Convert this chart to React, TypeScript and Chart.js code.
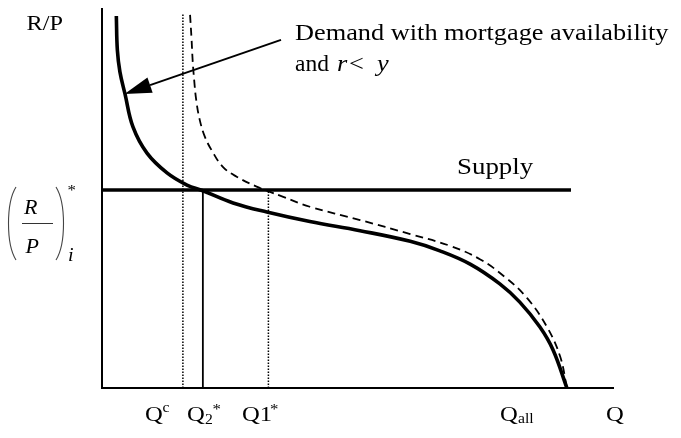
import React, { useEffect, useRef } from "react";
import { Chart, registerables } from "chart.js";

Chart.register(...registerables);

// Demand with mortgage availability, r < y (solid)
const demandQ = [2.8, 3.0, 3.5, 4.49, 6.05, 8.79, 12.7, 16.6, 19.7, 25.6, 32.2, 40.6, 50.4, 60.2, 66.0, 71.9, 77.7, 81.6, 85.5, 88.1, 90.8];
const demandRP = [97.9, 88.9, 83.2, 77.4, 68.7, 61.8, 56.6, 53.4, 51.9, 48.7, 46.3, 43.8, 41.4, 38.6, 36.1, 32.6, 27.4, 22.6, 16.1, 10.0, 0];

// Alternative demand (dashed)
const demand2Q = [17.2, 17.5, 17.7, 18.0, 18.4, 19.1, 20.1, 21.4, 23.6, 26.3, 30.2, 32.8, 35.4, 40.6, 50.4, 60.2, 68.0, 73.8, 78.7, 83.0, 86.9, 89.5, 90.8];
const demand2RP = [98.2, 91.6, 86.3, 81.1, 75.8, 70.5, 66.1, 62.6, 58.2, 55.6, 53.0, 51.6, 50.3, 47.7, 44.2, 40.5, 37.4, 33.9, 29.2, 23.7, 16.1, 8.2, 0];

// Supply
const supplyRP = 52.1;
const supplyQEnd = 91.6;

// Quantity markers
const qC = 15.8;
const q2Star = 19.7;
const q1Star = 32.5;
const qCTop = 98.4;

// Arrow annotation (data coords)
const arrowFrom = { x: 34.96, y: 91.6 };
const arrowTo = { x: 4.4, y: 77.4 };

const pts = (xs: number[], ys: number[]) => xs.map((x, i) => ({ x, y: ys[i] }));

const SX = 1.12;
const FONT = '"Liberation Serif", "Times New Roman", serif';

function txt(ctx: CanvasRenderingContext2D, s: string, x: number, y: number, size: number, italic = false, sx = SX) {
  ctx.save();
  ctx.font = `${italic ? "italic " : ""}${size}px ${FONT}`;
  ctx.fillStyle = "#000";
  ctx.textBaseline = "alphabetic";
  ctx.textAlign = "left";
  ctx.translate(x, y);
  ctx.scale(sx, 1);
  ctx.fillText(s, 0, 0);
  ctx.restore();
}

const overlay = {
  id: "overlay",
  afterDatasetsDraw(chart: any) {
    const ctx: CanvasRenderingContext2D = chart.ctx;
    const { left, right, top, bottom } = chart.chartArea;
    const xs = chart.scales.x;
    const ys = chart.scales.y;
    ctx.save();
    // axes
    ctx.strokeStyle = "#000";
    ctx.lineWidth = 2;
    ctx.beginPath();
    ctx.moveTo(left, top);
    ctx.lineTo(left, bottom);
    ctx.lineTo(right, bottom);
    ctx.stroke();

    // arrow
    const ax0 = xs.getPixelForValue(arrowFrom.x);
    const ay0 = ys.getPixelForValue(arrowFrom.y);
    const ax1 = xs.getPixelForValue(arrowTo.x);
    const ay1 = ys.getPixelForValue(arrowTo.y);
    const ang = Math.atan2(ay1 - ay0, ax1 - ax0);
    const hl = 27, hw = 8;
    const bx = ax1 - hl * Math.cos(ang);
    const by = ay1 - hl * Math.sin(ang);
    ctx.lineWidth = 2;
    ctx.beginPath();
    ctx.moveTo(ax0, ay0);
    ctx.lineTo(bx, by);
    ctx.stroke();
    ctx.fillStyle = "#000";
    ctx.beginPath();
    ctx.moveTo(ax1, ay1);
    ctx.lineTo(bx + hw * Math.sin(ang), by - hw * Math.cos(ang));
    ctx.lineTo(bx - hw * Math.sin(ang), by + hw * Math.cos(ang));
    ctx.closePath();
    ctx.fill();

    // texts
    txt(ctx, "R/P", 26.5, 29.5, 21.7);
    txt(ctx, "Demand with mortgage availability", 295, 40, 23.5);
    txt(ctx, "and", 295, 71, 23.5, false, 1.0);
    txt(ctx, "r", 337, 71, 23.5, true);
    txt(ctx, "<", 349, 71, 23.5);
    txt(ctx, "y", 377, 71, 23.5, true);
    txt(ctx, "Supply", 457, 174, 24);

    // bottom labels
    const by0 = 421;
    txt(ctx, "Q", 145, by0, 22);
    txt(ctx, "c", 162.5, 412, 14);
    txt(ctx, "Q", 187, by0, 22);
    txt(ctx, "2", 205, 424, 14);
    txt(ctx, "*", 212.5, 414, 15);
    txt(ctx, "Q1", 242, by0, 22);
    txt(ctx, "*", 270, 414, 15);
    txt(ctx, "Q", 500, by0, 22);
    txt(ctx, "all", 518, 423, 14);
    txt(ctx, "Q", 606, by0, 22);

    // left (R/P)_i^* label
    txt(ctx, "R", 24, 214, 22, true, 1.0);
    txt(ctx, "P", 25.5, 253, 22, true, 1.0);
    ctx.lineWidth = 1;
    ctx.strokeStyle = "#333";
    ctx.beginPath();
    ctx.moveTo(22, 223.5);
    ctx.lineTo(53, 223.5);
    ctx.stroke();
    ctx.lineWidth = 1.1;
    ctx.strokeStyle = "#444";
    ctx.beginPath();
    ctx.moveTo(16, 187);
    ctx.bezierCurveTo(6, 203, 6, 244, 16, 260);
    ctx.stroke();
    ctx.beginPath();
    ctx.moveTo(56, 187);
    ctx.bezierCurveTo(66, 203, 66, 244, 56, 260);
    ctx.stroke();
    txt(ctx, "*", 67.5, 195, 15);
    txt(ctx, "i", 68, 261, 18, true);
    ctx.restore();
  },
};

export default function App() {
  const ref = useRef<HTMLCanvasElement>(null);
  useEffect(() => {
    if (!ref.current) return;
    const common = { showLine: true, pointRadius: 0, fill: false, clip: false as any };
    const chart = new Chart(ref.current, {
      type: "scatter",
      data: {
        datasets: [
          {
            ...common,
            label: "Qc",
            data: [{ x: qC, y: 0 }, { x: qC, y: qCTop }],
            borderColor: "#000",
            borderWidth: 1.5,
            borderDash: [1.5, 1.5],
          },
          {
            ...common,
            label: "Q1*",
            data: [{ x: q1Star, y: 0 }, { x: q1Star, y: supplyRP }],
            borderColor: "#000",
            borderWidth: 1.5,
            borderDash: [1.5, 1.5],
          },
          {
            ...common,
            label: "Q2*",
            data: [{ x: q2Star, y: 0 }, { x: q2Star, y: supplyRP }],
            borderColor: "#000",
            borderWidth: 1.8,
          },
          {
            ...common,
            label: "Demand (dashed)",
            data: pts(demand2Q, demand2RP),
            borderColor: "#000",
            borderWidth: 1.8,
            borderDash: [8, 5],
            tension: 0.4,
          },
          {
            ...common,
            label: "Demand",
            data: pts(demandQ, demandRP),
            borderColor: "#000",
            borderWidth: 3.6,
            tension: 0.4,
          },
          {
            ...common,
            label: "Supply",
            data: [{ x: 0, y: supplyRP }, { x: supplyQEnd, y: supplyRP }],
            borderColor: "#000",
            borderWidth: 3.6,
          },
        ],
      },
      options: {
        animation: false,
        responsive: false,
        devicePixelRatio: 1,
        events: [],
        layout: { padding: { left: 102, right: 67, top: 8, bottom: 50 } },
        plugins: { legend: { display: false }, tooltip: { enabled: false } },
        scales: {
          x: { type: "linear", min: 0, max: 100, display: false },
          y: { type: "linear", min: 0, max: 100, display: false },
        },
      },
      plugins: [overlay],
    } as any);
    return () => chart.destroy();
  }, []);
  return (
    <div style={{ position: "absolute", left: 0, top: 0, width: 681, height: 438, background: "#fff" }}>
      <canvas ref={ref} width={681} height={438} style={{ display: "block" }} />
    </div>
  );
}
